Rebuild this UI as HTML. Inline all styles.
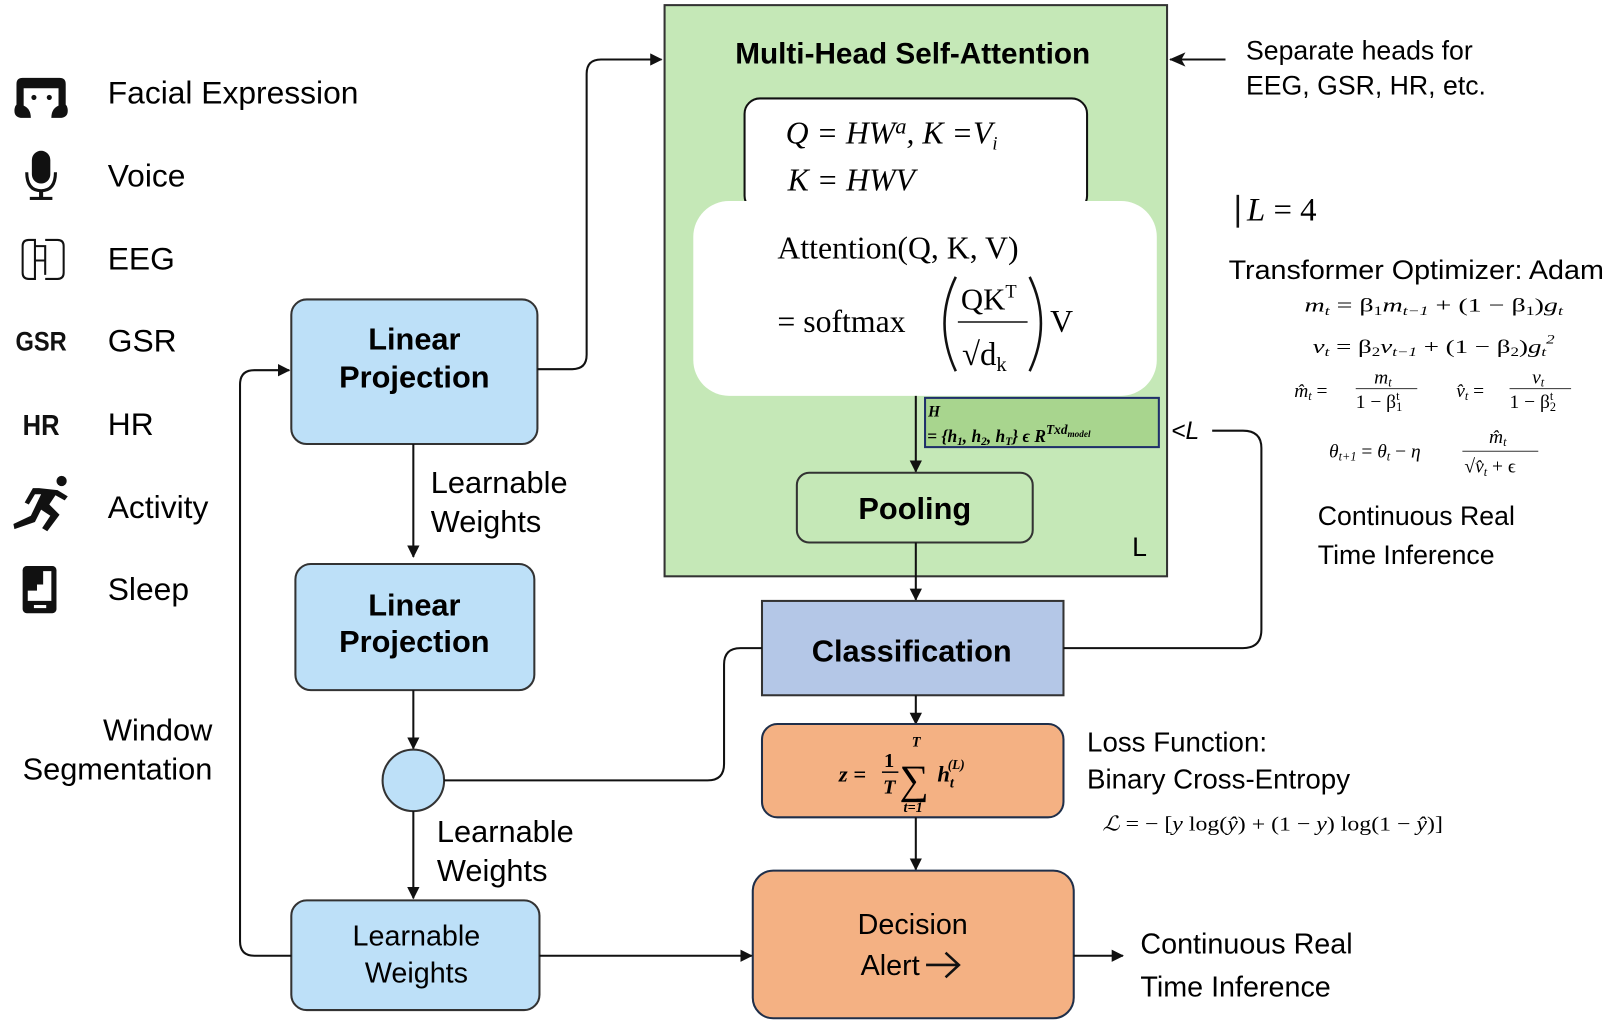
<!DOCTYPE html>
<html><head><meta charset="utf-8"><style>
html,body{margin:0;padding:0;background:#fff}
svg{display:block}
.s{font-family:"Liberation Sans",sans-serif}
.m{font-family:"Liberation Serif",serif}
</style></head><body>
<svg width="1605" height="1027" viewBox="0 0 1565 1001.5" xmlns="http://www.w3.org/2000/svg">
<defs>
<marker id="a" markerWidth="12" markerHeight="12" refX="11" refY="6" orient="auto" markerUnits="userSpaceOnUse" viewBox="0 0 12 12"><path d="M0,0 L12,6 L0,12 z" fill="#111"/></marker>
<marker id="b" markerWidth="16" markerHeight="14" refX="15" refY="7" orient="auto" markerUnits="userSpaceOnUse" viewBox="0 0 16 14"><path d="M0,0 L16,7 L0,14 L4,7 z" fill="#111"/></marker>
</defs>
<g stroke="#111" stroke-width="2" fill="none">
<rect x="648" y="5" width="490" height="557" fill="#c5e8b7" stroke="#333"/>
<rect x="726" y="96" width="334" height="110" rx="15" fill="#fff"/>
<rect x="676" y="196" width="452" height="190" rx="35" fill="#fff" stroke="none"/>
<rect x="902" y="388" width="228" height="48" fill="#a8d58e" stroke="#1f2f6a"/>
<line x1="893" y1="386" x2="893" y2="460" marker-end="url(#a)"/>
<rect x="777" y="461" width="230" height="68" rx="12" fill="#c5e8b7" stroke="#333"/>
<line x1="893" y1="529" x2="893" y2="585" marker-end="url(#a)"/>
<rect x="743" y="586" width="294" height="92" fill="#b4c7e7" stroke="#333"/>
<line x1="893" y1="678" x2="893" y2="706" marker-end="url(#a)"/>
<rect x="743" y="706" width="294" height="91" rx="15" fill="#f4b183" stroke="#1f2f4a"/>
<line x1="893" y1="797" x2="893" y2="848" marker-end="url(#a)"/>
<rect x="734" y="849" width="313" height="144" rx="20" fill="#f4b183" stroke="#1f2f4a"/>
<line x1="1047" y1="932" x2="1095" y2="932" marker-end="url(#a)"/>
<rect x="284" y="292" width="240" height="141" rx="15" fill="#bde0f8" stroke="#333"/>
<path d="M524,360 H558 Q572,360 572,346 V72 Q572,58 586,58 H645" marker-end="url(#a)"/>
<line x1="403" y1="433" x2="403" y2="543" marker-end="url(#a)"/>
<rect x="288" y="550" width="233" height="123" rx="15" fill="#bde0f8" stroke="#333"/>
<line x1="403" y1="673" x2="403" y2="730" marker-end="url(#a)"/>
<circle cx="403" cy="761" r="30" fill="#bde0f8" stroke="#333"/>
<path d="M433,761 H690 Q706,761 706,745 V648 Q706,632 722,632 H743"/>
<line x1="403" y1="791" x2="403" y2="876" marker-end="url(#a)"/>
<rect x="284" y="878" width="242" height="107" rx="15" fill="#bde0f8" stroke="#333"/>
<line x1="526" y1="932" x2="733" y2="932" marker-end="url(#a)"/>
<path d="M284,932 H248 Q234,932 234,918 V375 Q234,361 248,361 H282" marker-end="url(#a)"/>
<path d="M1037,632 H1212 Q1230,632 1230,614 V437 Q1230,420 1212,420 H1182"/>
<line x1="1195" y1="58" x2="1141" y2="58" marker-end="url(#b)"/>
<line x1="1207" y1="190" x2="1207" y2="222" stroke-width="2.5"/>
</g>
<text x="890" y="62" class="s" font-size="29" font-weight="bold" text-anchor="middle">Multi-Head Self-Attention</text>
<text x="766" y="140" class="m" font-size="31" font-style="italic">Q = HW<tspan font-size="22" dy="-10">a</tspan><tspan dy="10">, K =V</tspan><tspan font-size="18" dy="6">i</tspan></text>
<text x="768" y="186" class="m" font-size="31" font-style="italic">K = HWV</text>
<text x="758" y="252" class="m" font-size="31">Attention(Q, K, V)</text>
<text x="758" y="324" class="m" font-size="31">= softmax</text>
<path d="M932,270 Q910,315 932,362" fill="none" stroke="#111" stroke-width="2.5"/>
<path d="M1004,270 Q1026,315 1004,362" fill="none" stroke="#111" stroke-width="2.5"/>
<text x="937" y="302" class="m" font-size="30">QK<tspan font-size="18" dy="-12">T</tspan></text>
<line x1="934" y1="314" x2="1002" y2="314" stroke="#111" stroke-width="1.5"/>
<text x="938" y="356" class="m" font-size="32">√d<tspan font-size="20" dy="6">k</tspan></text>
<text x="1024" y="324" class="m" font-size="31">V</text>
<text x="905" y="406" class="m" font-size="15" font-weight="bold" font-style="italic">H</text>
<text x="904" y="431" class="m" font-size="17" font-weight="bold" font-style="italic">= {h<tspan font-size="11" dy="3">1</tspan><tspan dy="-3">, h</tspan><tspan font-size="11" dy="3">2</tspan><tspan dy="-3">, h</tspan><tspan font-size="11" dy="3">T</tspan><tspan dy="-3">} ϵ R</tspan><tspan font-size="13" dy="-8">Txd</tspan><tspan font-size="9" dy="3">model</tspan></text>
<text x="892" y="506" class="s" font-size="30" font-weight="bold" text-anchor="middle">Pooling</text>
<text x="1104" y="542" class="s" font-size="26">L</text>
<text x="889" y="645" class="s" font-size="30" font-weight="bold" text-anchor="middle">Classification</text>
<text x="818" y="762" class="m" font-size="22" font-weight="bold" font-style="italic">z =</text>
<text x="862" y="748" class="m" font-size="20" font-weight="bold">1</text>
<line x1="860" y1="753" x2="876" y2="753" stroke="#111" stroke-width="1.5"/>
<text x="861" y="774" class="m" font-size="20" font-weight="bold" font-style="italic">T</text>
<text x="877" y="774" class="m" font-size="40">∑</text>
<text x="889" y="728" class="m" font-size="14" font-weight="bold" font-style="italic">T</text>
<text x="881" y="792" class="m" font-size="14" font-weight="bold" font-style="italic">t=1</text>
<text x="914" y="762" class="m" font-size="22" font-weight="bold" font-style="italic">h<tspan font-size="14" dy="6">t</tspan><tspan font-size="13" dx="-6" dy="-18">(L)</tspan></text>
<text x="890" y="911" class="s" font-size="28" text-anchor="middle">Decision</text>
<text x="868" y="951" class="s" font-size="28" text-anchor="middle">Alert</text>
<path d="M903,941 H934 M922,929 L935,941 L922,953" fill="none" stroke="#111" stroke-width="2.5"/>
<text x="1112" y="930" class="s" font-size="28">Continuous Real</text>
<text x="1112" y="972" class="s" font-size="28">Time Inference</text>
<text x="404" y="341" class="s" font-size="30" font-weight="bold" text-anchor="middle">Linear</text>
<text x="404" y="378" class="s" font-size="30" font-weight="bold" text-anchor="middle">Projection</text>
<text x="404" y="600" class="s" font-size="30" font-weight="bold" text-anchor="middle">Linear</text>
<text x="404" y="636" class="s" font-size="30" font-weight="bold" text-anchor="middle">Projection</text>
<text x="406" y="922" class="s" font-size="28" text-anchor="middle">Learnable</text>
<text x="406" y="958" class="s" font-size="28" text-anchor="middle">Weights</text>
<text x="420" y="481" class="s" font-size="30">Learnable</text>
<text x="420" y="519" class="s" font-size="30">Weights</text>
<text x="426" y="821" class="s" font-size="30">Learnable</text>
<text x="426" y="859" class="s" font-size="30">Weights</text>
<text x="207" y="722" class="s" font-size="30" text-anchor="end">Window</text>
<text x="207" y="760" class="s" font-size="30" text-anchor="end">Segmentation</text>
<g class="s" font-size="31">
<text x="105" y="101">Facial Expression</text>
<text x="105" y="182">Voice</text>
<text x="105" y="263">EEG</text>
<text x="105" y="343">GSR</text>
<text x="105" y="424">HR</text>
<text x="105" y="505">Activity</text>
<text x="105" y="585">Sleep</text>
</g>
<g fill="#111">
<path d="M22,76 H58 Q64,76 64,82 V102 Q66,104 66,108 Q66,115 58,115 H50 Q50,106 57,103 V86 H23 V103 Q30,106 30,115 H22 Q14,115 14,108 Q14,104 16,102 V82 Q16,76 22,76 Z"/>
<circle cx="33" cy="95" r="2.5"/><circle cx="48" cy="95" r="2.5"/>
<rect x="31" y="147" width="18" height="32" rx="9"/>
<path d="M26,168 Q26,186 40,186 Q54,186 54,168" fill="none" stroke="#111" stroke-width="3"/>
<rect x="38" y="186" width="4" height="7"/><rect x="29" y="192" width="22" height="3"/>
<text x="40" y="342" font-family="Liberation Sans,sans-serif" font-weight="bold" font-size="26" text-anchor="middle" textLength="50" lengthAdjust="spacingAndGlyphs">GSR</text>
<text x="40" y="424" font-family="Liberation Sans,sans-serif" font-weight="bold" font-size="28" text-anchor="middle" textLength="36" lengthAdjust="spacingAndGlyphs">HR</text>
<circle cx="60" cy="469" r="5"/>
<path d="M38,476 L56,478 L66,484 L63,488 L54,483 L48,492 L58,502 L46,518 L41,515 L49,503 L40,497 L34,509 L14,516 L13,511 L30,503 L40,482 L34,482 L28,492 L24,490 L32,476 Z"/>
<rect x="22" y="552" width="33" height="46" rx="4"/>
<path d="M27,557 H50 V586 H27 V576 H36 V570 H42 V557 Z" fill="#fff"/>
<rect x="33" y="590" width="12" height="3" fill="#fff"/>
</g>
<path d="M22,240 Q22,234 28,234 H34 V272 H28 Q22,272 22,266 Z M34,240 H44 V268 M44,234 H56 Q62,234 62,240 V266 Q62,272 56,272 H44 M34,254 H44" fill="none" stroke="#111" stroke-width="2"/>
<text x="1215" y="58" class="s" font-size="26">Separate heads for</text>
<text x="1215" y="92" class="s" font-size="26">EEG, GSR, HR, etc.</text>
<text x="1216" y="215" class="m" font-size="32" font-style="italic">L<tspan font-style="normal"> = 4</tspan></text>
<text x="1198" y="272" class="s" font-size="26" textLength="366" lengthAdjust="spacingAndGlyphs">Transformer Optimizer: Adam</text>
<g class="m" font-size="19" font-style="italic">
<text x="1272" y="304" textLength="252" lengthAdjust="spacingAndGlyphs">m<tspan font-size="12" dy="3">t</tspan><tspan dy="-3" font-style="normal"> = β</tspan><tspan font-size="12" dy="3" font-style="normal">1</tspan><tspan dy="-3">m</tspan><tspan font-size="12" dy="3">t−1</tspan><tspan dy="-3" font-style="normal"> + (1 − β</tspan><tspan font-size="12" dy="3" font-style="normal">1</tspan><tspan dy="-3" font-style="normal">)</tspan>g<tspan font-size="12" dy="3">t</tspan></text>
<text x="1280" y="344" textLength="236" lengthAdjust="spacingAndGlyphs">v<tspan font-size="12" dy="3">t</tspan><tspan dy="-3" font-style="normal"> = β</tspan><tspan font-size="12" dy="3" font-style="normal">2</tspan><tspan dy="-3">v</tspan><tspan font-size="12" dy="3">t−1</tspan><tspan dy="-3" font-style="normal"> + (1 − β</tspan><tspan font-size="12" dy="3" font-style="normal">2</tspan><tspan dy="-3" font-style="normal">)</tspan>g<tspan font-size="12" dy="3">t</tspan><tspan font-size="12" dy="-12">2</tspan></text>
<text x="1262" y="387">m̂<tspan font-size="12" dy="3">t</tspan><tspan dy="-3" font-style="normal"> =</tspan></text>
<text x="1340" y="374">m<tspan font-size="12" dy="3">t</tspan></text>
<line x1="1322" y1="379" x2="1382" y2="379" stroke="#333" stroke-width="1"/>
<text x="1322" y="398" font-style="normal">1 − β<tspan font-size="12" dy="3">1</tspan><tspan font-size="12" dx="-6" dy="-11">t</tspan></text>
<text x="1420" y="387">v̂<tspan font-size="12" dy="3">t</tspan><tspan dy="-3" font-style="normal"> =</tspan></text>
<text x="1494" y="374">v<tspan font-size="12" dy="3">t</tspan></text>
<line x1="1472" y1="379" x2="1532" y2="379" stroke="#333" stroke-width="1"/>
<text x="1472" y="398" font-style="normal">1 − β<tspan font-size="12" dy="3">2</tspan><tspan font-size="12" dx="-6" dy="-11">t</tspan></text>
<text x="1296" y="446">θ<tspan font-size="12" dy="3">t+1</tspan><tspan dy="-3" font-style="normal"> = </tspan>θ<tspan font-size="12" dy="3">t</tspan><tspan dy="-3" font-style="normal"> − </tspan>η</text>
<text x="1452" y="432">m̂<tspan font-size="12" dy="3">t</tspan></text>
<line x1="1426" y1="440" x2="1500" y2="440" stroke="#333" stroke-width="1"/>
<text x="1428" y="461">√v̂<tspan font-size="12" dy="3">t</tspan><tspan dy="-3" font-style="normal"> + ϵ</tspan></text>
</g>
<text x="1142" y="428" class="s" font-size="24" font-style="italic">&lt;L</text>
<text x="1285" y="512" class="s" font-size="26">Continuous Real</text>
<text x="1285" y="550" class="s" font-size="26">Time Inference</text>
<text x="1060" y="733" class="s" font-size="27">Loss Function:</text>
<text x="1060" y="769" class="s" font-size="27">Binary Cross-Entropy</text>
<text x="1075" y="810" class="m" font-size="20" textLength="332" lengthAdjust="spacingAndGlyphs"><tspan font-style="italic">ℒ</tspan> = − [<tspan font-style="italic">y</tspan> log(<tspan font-style="italic">ŷ</tspan>) + (1 − <tspan font-style="italic">y</tspan>) log(1 − <tspan font-style="italic">ŷ</tspan>)]</text>
</svg>
</body></html>
